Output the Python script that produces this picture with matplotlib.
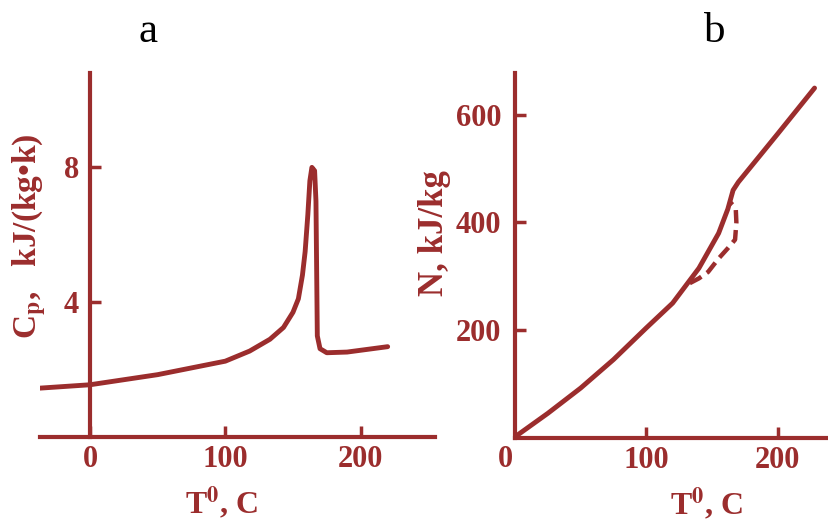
import numpy as np
import matplotlib.pyplot as plt

plt.rcParams['font.family'] = ['Liberation Serif', 'DejaVu Serif']
plt.rcParams['mathtext.fontset'] = 'stix'

red = '#9b2d2d'

# panel a: specific heat vs temperature
t_cp = [-37, 0, 50, 100, 118, 133, 143, 150, 154, 157, 159, 161, 162.5, 164, 166,
        167, 167.5, 168, 170, 175, 190, 220]
cp = [1.45, 1.55, 1.85, 2.25, 2.55, 2.9, 3.25, 3.7, 4.1, 4.8, 5.5, 6.6, 7.6, 8.0, 7.9,
      7.0, 5.0, 3.0, 2.62, 2.5, 2.52, 2.68]

# panel b: enthalpy vs temperature (solid) and dashed branch
t_n = [1, 25, 50, 75, 100, 120, 140, 155, 162, 166, 170, 200, 228]
n_val = [3, 45, 92, 145, 204, 250, 315, 380, 425, 460, 475, 565, 650]
t_dash = [133, 140, 147, 155, 162, 167.5, 168.5, 168, 164]
n_dash = [287, 296, 308, 333, 352, 368, 400, 427, 437]

W, H = 829, 520
fig = plt.figure(figsize=(W / 100, H / 100), dpi=100)

def px_axes(l, r, b, t):
    return fig.add_axes([l / W, 1 - b / H, (r - l) / W, (b - t) / H])

def style(ax):
    for s in ['top', 'right']:
        ax.spines[s].set_visible(False)
    for s in ['left', 'bottom']:
        ax.spines[s].set_color(red)
        ax.spines[s].set_linewidth(3)
    ax.tick_params(direction='in', length=8, width=2.5, color=red,
                   labelcolor=red, labelsize=22)
    for lab in ax.get_xticklabels() + ax.get_yticklabels():
        lab.set_fontweight('bold')
    ax.patch.set_alpha(0)

# ---- panel a
ax1 = px_axes(40, 435, 437, 73)
ax1.plot(t_cp, cp, color=red, lw=3.5, solid_capstyle='round', solid_joinstyle='round')
ax1.set_xlim(-37, 255)
ax1.set_ylim(0, 10.8)
ax1.spines['left'].set_position(('data', 0))
ax1.set_xticks([0, 100, 200])
ax1.set_yticks([4, 8])
style(ax1)
ax1.tick_params(axis='x', pad=6)
ax1.tick_params(axis='y', pad=8)
ax1.set_ylabel('C$_\\mathbf{p}$,   kJ/(kg•k)', color=red, fontsize=24, fontweight='bold')
ax1.yaxis.set_label_coords(0.02, 0.55)
ax1.set_xlabel('T$^\\mathbf{0}$, C', color=red, fontsize=23, fontweight='bold')
ax1.xaxis.set_label_coords(0.46, -0.13)

# ---- panel b
ax2 = px_axes(515, 829, 437.5, 73)
ax2.plot(t_n, n_val, color=red, lw=3.5, solid_capstyle='round', solid_joinstyle='round')
ax2.plot(t_dash, n_dash, color=red, lw=3.2, dashes=(3, 1.5))
ax2.set_xlim(0, 239)
ax2.set_ylim(0, 678)
ax2.set_xticks([100, 200])
ax2.set_yticks([200, 400, 600])
style(ax2)
ax2.tick_params(axis='x', pad=6)
ax2.tick_params(axis='y', pad=10)
ax2.text(-0.03, -0.02, '0', transform=ax2.transAxes, color=red, fontsize=22,
         fontweight='bold', ha='center', va='top')
ax2.set_ylabel('N, kJ/kg', color=red, fontsize=25, fontweight='bold')
ax2.yaxis.set_label_coords(-0.205, 0.56)
ax2.set_xlabel('T$^\\mathbf{0}$, C', color=red, fontsize=23, fontweight='bold')
ax2.xaxis.set_label_coords(0.61, -0.13)

fig.text(148 / W, 1 - 32 / H, 'a', fontsize=31, ha='center', va='center')
fig.text(715 / W, 1 - 32 / H, 'b', fontsize=31, ha='center', va='center')

fig.savefig('out.png', dpi=100)
